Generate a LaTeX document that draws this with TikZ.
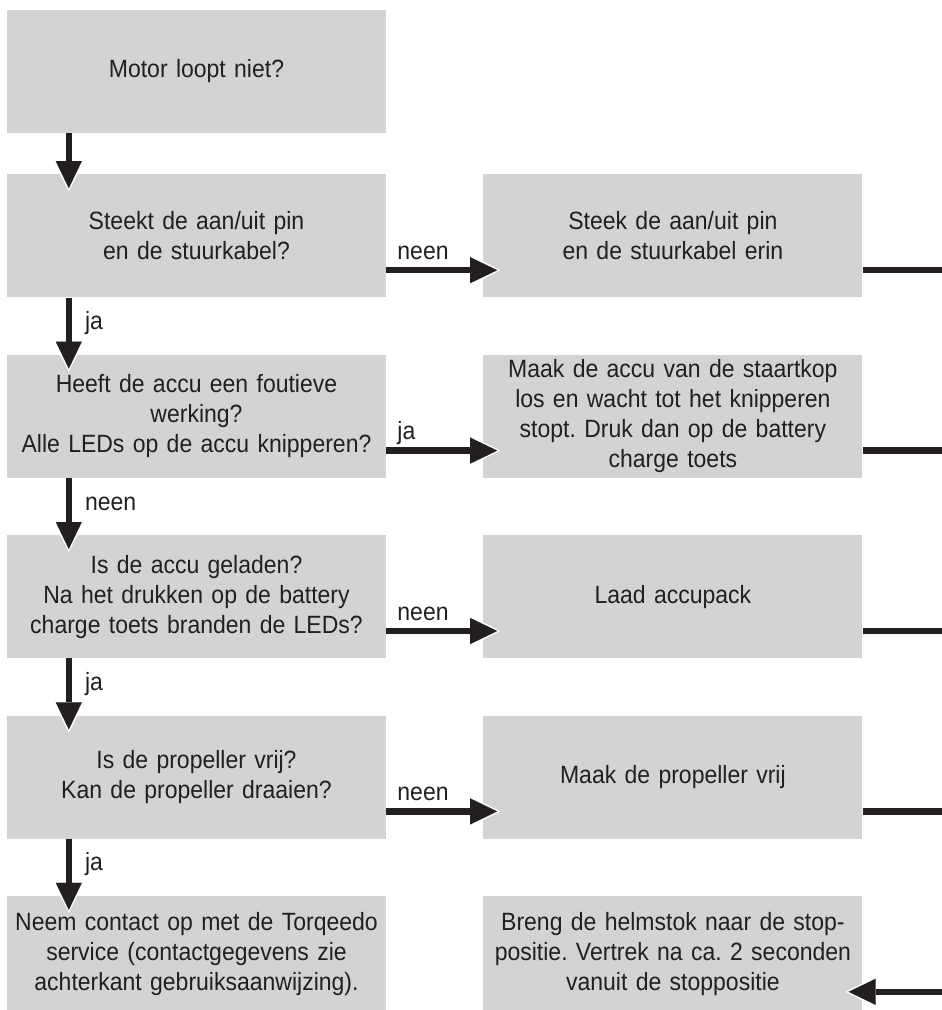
\documentclass[tikz,border=0pt]{standalone}
\usepackage{fontspec}
\setmainfont[FakeStretch=0.92]{Liberation Sans}
\usetikzlibrary{arrows.meta,positioning}
\definecolor{boxgray}{RGB}{209,211,212}
\definecolor{ink}{RGB}{35,31,32}
\frenchspacing

\begin{document}
\begin{tikzpicture}[x=1pt, y=-1pt, node distance=57pt and 97pt,
        box/.style={rectangle, fill=boxgray, text=ink, text width=376pt, align=center, minimum width=379pt, minimum height=123pt, inner sep=0pt, font=\fontsize{25}{30}\selectfont},
        flow/.style={line width=6.5pt, draw=ink, -{Triangle[length=27pt,width=26pt,line width=0.01pt]}, shorten >=-14pt,
            preaction={draw=white, line width=0.1pt, shorten >=-17pt, -{Triangle[length=33pt,width=33pt,line width=0.01pt]}}},
        tail/.style={line width=6.5pt, draw=ink},
        lbl/.style={text=ink, inner sep=0pt, font=\fontsize{25}{28}\selectfont}]

        \useasboundingbox (0,0) rectangle (942,1010);

        % questions on the left
        \node[box] (q1) at (196.5,71.5) {Motor loopt niet?};
        \node[box, below=41pt of q1] (q2) {Steekt de aan/uit pin\\en de stuurkabel?};
        \node[box, below=of q2] (q3) {Heeft de accu een foutieve\\werking?\\Alle LEDs op de accu knipperen?};
        \node[box, below=of q3] (q4) {Is de accu geladen?\\Na het drukken op de battery\\charge toets branden de LEDs?};
        \node[box, below=of q4] (q5) {Is de propeller vrij?\\Kan de propeller draaien?};
        \node[box, below=of q5, minimum height=116pt] (q6) {Neem contact op met de Torqeedo\\service (contactgegevens zie\\achterkant gebruiksaanwijzing).};

        % actions on the right
        \node[box, right=of q2] (a2) {Steek de aan/uit pin\\en de stuurkabel erin};
        \node[box, right=of q3] (a3) {Maak de accu van de staartkop\\los en wacht tot het knipperen\\stopt. Druk dan op de battery\\charge toets};
        \node[box, right=of q4] (a4) {Laad accupack};
        \node[box, right=of q5] (a5) {Maak de propeller vrij};
        \node[box, right=of q6, minimum height=116pt] (a6) {Breng de helmstok naar de stop-\\positie. Vertrek na ca. 2 seconden\\vanuit de stoppositie};

        % down the left column
        \draw[flow] ([xshift=62pt]q1.south west) -- ([xshift=62pt]q2.north west);
        \draw[flow] ([xshift=62pt]q2.south west) -- ([xshift=62pt]q3.north west) node[lbl, midway, anchor=west, xshift=13pt, yshift=3pt] {ja};
        \draw[flow] ([xshift=62pt]q3.south west) -- ([xshift=62pt]q4.north west) node[lbl, midway, anchor=west, xshift=13pt, yshift=3pt] {neen};
        \draw[flow] ([xshift=62pt]q4.south west) -- ([xshift=62pt]q5.north west) node[lbl, midway, anchor=west, xshift=13pt, yshift=3pt] {ja};
        \draw[flow] ([xshift=62pt]q5.south west) -- ([xshift=62pt]q6.north west) node[lbl, midway, anchor=west, xshift=13pt, yshift=3pt] {ja};

        % across to the actions
        \draw[flow] ([yshift=-96pt]q2.north east) -- ([yshift=-96pt]a2.north west) node[lbl, pos=0, anchor=base west, xshift=8pt, yshift=11pt] {neen};
        \draw[flow] ([yshift=-96pt]q3.north east) -- ([yshift=-96pt]a3.north west) node[lbl, pos=0, anchor=base west, xshift=8pt, yshift=11pt] {ja};
        \draw[flow] ([yshift=-96pt]q4.north east) -- ([yshift=-96pt]a4.north west) node[lbl, pos=0, anchor=base west, xshift=8pt, yshift=11pt] {neen};
        \draw[flow] ([yshift=-96pt]q5.north east) -- ([yshift=-96pt]a5.north west) node[lbl, pos=0, anchor=base west, xshift=8pt, yshift=11pt] {neen};

        % lines out to the right and back
        \draw[tail] ([yshift=-96pt]a2.north east) -- ++(80,0);
        \draw[tail] ([yshift=-96pt]a3.north east) -- ++(80,0);
        \draw[tail] ([yshift=-96pt]a4.north east) -- ++(80,0);
        \draw[tail] ([yshift=-96pt]a5.north east) -- ++(80,0);
        \coordinate (back) at ([xshift=80pt, yshift=-96pt]a6.north east);
        \draw[flow] (back) -- ([yshift=-96pt]a6.north east);
    \end{tikzpicture}
\end{document}
